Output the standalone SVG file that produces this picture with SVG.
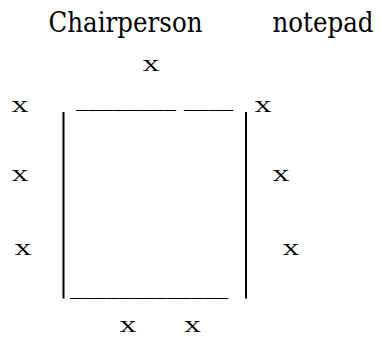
<svg xmlns="http://www.w3.org/2000/svg" width="382" height="338" viewBox="0 0 382 338">
<style>
.h{font-size:27px}
.x{font-size:15px}
.u{font-size:25px}
.bar{stroke:#000;stroke-width:2;fill:none}
</style>
<rect width="382" height="338" fill="#fff"/>
<g id="page" style="font-family:'DejaVu Serif',serif" fill="#000">
<g id="titles">
<text class="h" x="48.5" y="32.3" textLength="154" lengthAdjust="spacingAndGlyphs">Chairperson</text>
<text class="h" x="272.5" y="32.3" textLength="101" lengthAdjust="spacingAndGlyphs">notepad</text>
</g>
<g id="xs">
<text class="x" x="143" y="71" textLength="16" lengthAdjust="spacingAndGlyphs">X</text>
<text class="x" x="12" y="112" textLength="16" lengthAdjust="spacingAndGlyphs">X</text>
<text class="x" x="255" y="112" textLength="16" lengthAdjust="spacingAndGlyphs">X</text>
<text class="x" x="12" y="181" textLength="16" lengthAdjust="spacingAndGlyphs">X</text>
<text class="x" x="273" y="181" textLength="16" lengthAdjust="spacingAndGlyphs">X</text>
<text class="x" x="15" y="255" textLength="16" lengthAdjust="spacingAndGlyphs">X</text>
<text class="x" x="283" y="255" textLength="16" lengthAdjust="spacingAndGlyphs">X</text>
<text class="x" x="120" y="332" textLength="16" lengthAdjust="spacingAndGlyphs">X</text>
<text class="x" x="184.5" y="332" textLength="16" lengthAdjust="spacingAndGlyphs">X</text>
</g>
<g id="box">
<text class="u" x="76" y="105" textLength="100" lengthAdjust="spacingAndGlyphs">________</text>
<text class="u" x="183.7" y="105" textLength="49.6" lengthAdjust="spacingAndGlyphs">____</text>
<text class="u" x="70" y="293" textLength="158.3" lengthAdjust="spacingAndGlyphs">_____________</text>
<path class="bar" d="M63.5 112V298.5M246 112V298.5"/>
</g>
</g>
</svg>
